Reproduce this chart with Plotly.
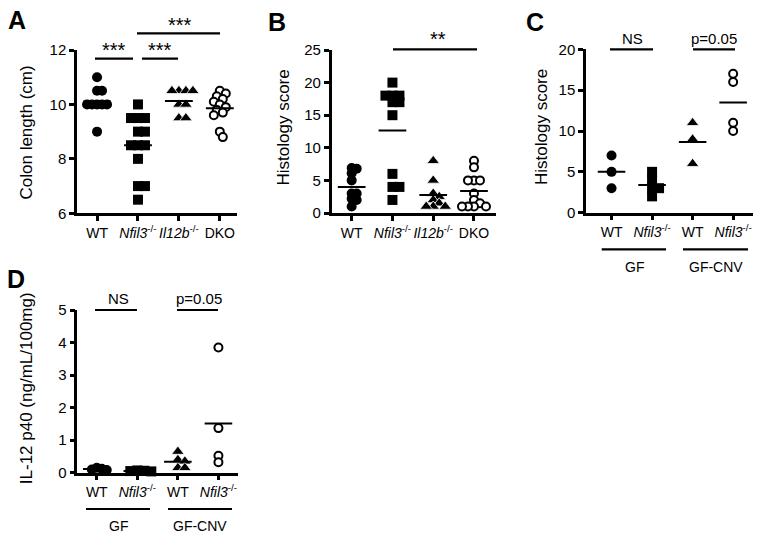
import numpy as np
import plotly.graph_objects as go

W, H = 762, 537
FONT = "Liberation Sans, Arial, Helvetica, sans-serif"

# ---------------- data ----------------
# Panel A: colon length (cm)
a_labels = ["WT", "<i>Nfil3</i><sup>-/-</sup>", "<i>Il12b</i><sup>-/-</sup>", "DKO"]
a_wt = [11, 10.5, 10.5, 10, 10, 10, 10, 10, 9]
a_nfil3 = [10, 9.5, 9.5, 9.5, 9, 9, 8.5, 8.5, 8.5, 8, 7, 7, 6.5]
a_il12b = [10.5, 10.5, 10.5, 10.5, 10, 10, 9.5, 9.5]
a_dko = [10.5, 10.4, 10.3, 10.2, 10.1, 10.0, 9.9, 9.8, 9.7, 9.6, 9.0, 8.8]

# Panel B: histology score
b_labels = a_labels
b_wt = [6.9, 6.8, 6.1, 5.0, 3.0, 3.0, 2.2, 2.0, 1.0]
b_nfil3 = [20, 18, 18, 18, 17, 17, 15, 6, 4, 4, 2]
b_il12b = [8, 5, 3, 2.5, 2, 1.5, 1, 1, 1]
b_dko = [8, 7, 5, 5, 5, 3, 2, 1.5, 1, 1, 1, 1]

# Panel C: histology score, GF vs GF-CNV
c_labels = ["WT", "<i>Nfil3</i><sup>-/-</sup>", "WT", "<i>Nfil3</i><sup>-/-</sup>"]
c_gf_wt = [7, 5, 3]
c_gf_nfil3 = [5, 4, 3, 3, 2]
c_cnv_wt = [11, 9, 6]
c_cnv_nfil3 = [17, 16, 11, 10]

# Panel D: IL-12 p40 (ng/mL/100mg)
d_labels = c_labels
d_gf_wt = [0.15, 0.12, 0.1, 0.08]
d_gf_nfil3 = [0.07, 0.06, 0.05, 0.04]
d_cnv_wt = [0.65, 0.4, 0.35, 0.15, 0.15]
d_cnv_nfil3 = [3.85, 1.37, 0.52, 0.32]

group_names = ["GF", "GF-CNV"]

# ---------------- layout helpers ----------------
def px_x(p):
    return p / W

def px_y(p):
    return 1 - p / H

panels = [
    dict(key="", xpx=(77, 237), ypx=(50, 213.3), xr=(-0.49, 3.42), yr=(6, 12), tickv=[6, 8, 10, 12],
         labels=a_labels, groups=[a_wt, a_nfil3, a_il12b, a_dko]),
    dict(key="2", xpx=(331.7, 496), ypx=(50, 213), xr=(-0.49, 3.54), yr=(0, 25), tickv=[0, 5, 10, 15, 20, 25],
         labels=b_labels, groups=[b_wt, b_nfil3, b_il12b, b_dko]),
    dict(key="3", xpx=(586, 753), ypx=(49.3, 212.7), xr=(-0.63, 3.49), yr=(0, 20), tickv=[0, 5, 10, 15, 20],
         labels=c_labels, groups=[c_gf_wt, c_gf_nfil3, c_cnv_wt, c_cnv_nfil3]),
    dict(key="4", xpx=(77.3, 238.3), ypx=(310, 472.7), xr=(-0.48, 3.49), yr=(0, 5), tickv=[0, 1, 2, 3, 4, 5],
         labels=d_labels, groups=[d_gf_wt, d_gf_nfil3, d_cnv_wt, d_cnv_nfil3]),
]

styles = [
    dict(symbol="circle", size=10, color="black", line=dict(width=0), d=4.8),
    dict(symbol="square", size=10, color="black", line=dict(width=0), d=6.5),
    dict(symbol="triangle-up", size=11, color="black", line=dict(width=0.8, color="white"), d=6.5),
    dict(symbol="circle", size=8, color="white", line=dict(width=2, color="black"), d=6.0),
]


def swarm(vals, ppy, ppx, d):
    vals = np.asarray(vals, dtype=float)
    order = np.argsort(-vals, kind="stable")
    placed = []
    offs = np.zeros(len(vals))
    cands = [0]
    for s in range(1, 80):
        cands += [s, -s]
    for i in order:
        y = vals[i] * ppy
        for c in cands:
            if all((c - px) ** 2 + (y - py) ** 2 >= d * d for px, py in placed):
                break
        placed.append((c, y))
        offs[i] = c / ppx
    return offs


fig = go.Figure()
layout = dict(width=W, height=H, margin=dict(l=0, r=0, t=0, b=0, pad=0), autosize=False,
              paper_bgcolor="white", plot_bgcolor="white", showlegend=False,
              font=dict(family=FONT, color="black", size=14))

for p in panels:
    k = p["key"]
    ppx = (p["xpx"][1] - p["xpx"][0]) / (p["xr"][1] - p["xr"][0])
    ppy = (p["ypx"][1] - p["ypx"][0]) / (p["yr"][1] - p["yr"][0])
    for gi, vals in enumerate(p["groups"]):
        st = styles[gi]
        offs = swarm(vals, ppy, ppx, st["d"])
        xs = gi + offs
        fig.add_trace(go.Scatter(
            x=xs, y=vals, mode="markers", xaxis="x" + k, yaxis="y" + k, cliponaxis=False,
            marker=dict(symbol=st["symbol"], size=st["size"], color=st["color"], line=st["line"]),
            hoverinfo="y"))
        m = float(np.mean(vals))
        fig.add_trace(go.Scatter(
            x=[gi - 0.34, gi + 0.34], y=[m, m], mode="lines", xaxis="x" + k, yaxis="y" + k,
            cliponaxis=False, line=dict(color="black", width=2), hoverinfo="skip"))
    ax = dict(domain=[px_x(p["xpx"][0]), px_x(p["xpx"][1])], range=list(p["xr"]),
              anchor="y" + k, showline=True, linecolor="black", linewidth=2.5,
              ticks="outside", ticklen=5, tickwidth=2.5, tickcolor="black",
              tickvals=[0, 1, 2, 3], ticktext=p["labels"], showgrid=False, zeroline=False,
              tickfont=dict(family=FONT, size=14, color="black"), fixedrange=True, automargin=False)
    ay = dict(domain=[px_y(p["ypx"][1]), px_y(p["ypx"][0])], range=list(p["yr"]),
              anchor="x" + k, showline=True, linecolor="black", linewidth=2.5,
              ticks="outside", ticklen=5, tickwidth=2.5, tickcolor="black",
              tickvals=p["tickv"], showgrid=False, zeroline=False,
              tickfont=dict(family=FONT, size=15, color="black"), fixedrange=True, automargin=False)
    layout["xaxis" + k] = ax
    layout["yaxis" + k] = ay

fig.update_layout(**layout)

annotations = []
shapes = []

def text(x, y, s, size, xanchor="center", yanchor="middle", angle=0, bold=False):
    annotations.append(dict(x=px_x(x), y=px_y(y), xref="paper", yref="paper", text=("<b>%s</b>" % s if bold else s),
                            showarrow=False, xanchor=xanchor, yanchor=yanchor, textangle=angle,
                            font=dict(family=FONT, size=size, color="black")))

def hline(x0, x1, y, w=2.2):
    shapes.append(dict(type="line", xref="paper", yref="paper", x0=px_x(x0), x1=px_x(x1),
                       y0=px_y(y), y1=px_y(y), line=dict(color="black", width=w)))

# panel letters
text(6, 20, "A", 25, xanchor="left", bold=True)
text(266, 22, "B", 25, xanchor="left", bold=True)
text(524, 22, "C", 25, xanchor="left", bold=True)
text(5, 279, "D", 25, xanchor="left", bold=True)

# axis titles
text(26, 132.5, "Colon length (cm)", 17, angle=-90)
text(283, 127.5, "Histology score", 17, angle=-90)
text(541.5, 127.5, "Histology score", 17, angle=-90)
text(26.7, 388.5, "IL-12 p40 (ng/mL/100mg)", 17, angle=-90)

# significance brackets
hline(95, 133, 58.7); text(114, 50, "***", 20)
hline(142, 178, 58.7); text(160, 50, "***", 20)
hline(137, 220, 33.3); text(180, 25, "***", 20)
hline(393, 477, 49.3); text(438, 39, "**", 20)
hline(610, 653, 49.3); text(632, 38, "NS", 15)
hline(693, 735, 49.3); text(714, 38, "p=0.05", 15)
hline(95, 137, 310); text(118, 298, "NS", 15)
hline(177, 218, 310); text(199, 298, "p=0.05", 15)

# group bars under C and D
hline(601.7, 666, 249.3); text(634, 267, group_names[0], 14)
hline(683, 748, 249.3); text(716, 267, group_names[1], 14)
hline(86, 150, 509); text(118, 526, group_names[0], 14)
hline(168, 232, 509); text(200, 526, group_names[1], 14)

fig.update_layout(annotations=annotations, shapes=shapes)
fig.write_html("out.html", config={"displayModeBar": False},
               post_script="document.body.style.margin='0';document.body.style.overflow='hidden';")
